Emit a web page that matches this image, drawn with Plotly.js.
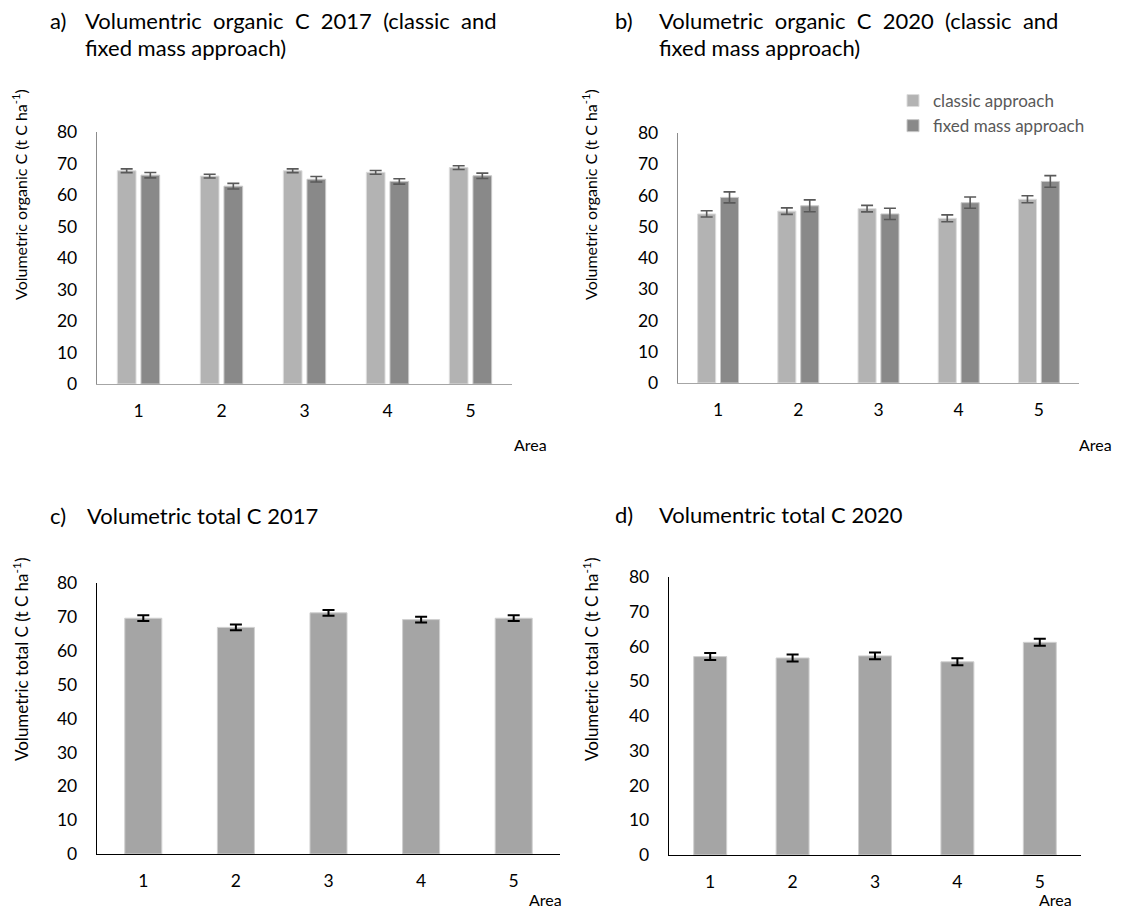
<!DOCTYPE html>
<html><head><meta charset="utf-8">
<script src="https://cdn.plot.ly/plotly-3.0.1.min.js"></script>
<style>html,body{margin:0;padding:0;background:#fff}</style>
</head><body><div id="chart" style="width:1123px;height:913px"></div>
<script>
// ---- data ----
const areas = ['1', '2', '3', '4', '5'];
const orgC2017Classic = [67.7, 66.0, 67.7, 67.2, 68.7];
const orgC2017ClassicErr = [0.6, 0.6, 0.6, 0.6, 0.6];
const orgC2017Fixed = [66.3, 62.8, 65.0, 64.3, 66.1];
const orgC2017FixedErr = [0.85, 0.9, 0.85, 0.85, 0.85];
const orgC2020Classic = [54.1, 55.0, 55.8, 52.7, 58.8];
const orgC2020ClassicErr = [1.0, 1.05, 1.05, 1.1, 1.1];
const orgC2020Fixed = [59.4, 56.7, 54.1, 57.7, 64.5];
const orgC2020FixedErr = [1.75, 1.9, 1.8, 1.8, 1.85];
const totC2017 = [69.6, 66.9, 71.2, 69.2, 69.6];
const totC2017Err = [0.85, 0.85, 0.85, 0.85, 0.85];
const totC2020 = [57.1, 56.7, 57.3, 55.6, 61.2];
const totC2020Err = [1.0, 1.0, 1.0, 1.0, 1.0];
const seriesNames = ['classic approach', 'fixed mass approach'];
const yTicks = [0, 10, 20, 30, 40, 50, 60, 70, 80];

// ---- layout helpers ----
const W = 1123, H = 913;
const px = x => x / W;
const py = y => 1 - y / H;
const FONT = 'Lato, "Open Sans", sans-serif';
const cLight = '#b3b3b3', cDark = '#898989', cTot = '#a5a5a5';
const justify = s => s.split(' ').join('&nbsp; ');

function errs(arr, color, th) {
  return {type: 'data', array: arr, visible: true, color: color, thickness: th, width: 6};
}

const traces = [
  {type: 'bar', x: areas, y: orgC2017Classic, name: seriesNames[0], xaxis: 'x', yaxis: 'y',
   marker: {color: cLight, line: {color: '#dcdcdc', width: 1}}, error_y: errs(orgC2017ClassicErr, '#595959', 1.6), showlegend: false},
  {type: 'bar', x: areas, y: orgC2017Fixed, name: seriesNames[1], xaxis: 'x', yaxis: 'y',
   marker: {color: cDark, line: {color: '#c8c8c8', width: 1}}, error_y: errs(orgC2017FixedErr, '#595959', 1.6), showlegend: false},
  {type: 'bar', x: areas, y: orgC2020Classic, name: seriesNames[0], xaxis: 'x2', yaxis: 'y2',
   marker: {color: cLight, line: {color: '#dcdcdc', width: 1}}, error_y: errs(orgC2020ClassicErr, '#595959', 1.6)},
  {type: 'bar', x: areas, y: orgC2020Fixed, name: seriesNames[1], xaxis: 'x2', yaxis: 'y2',
   marker: {color: cDark, line: {color: '#c8c8c8', width: 1}}, error_y: errs(orgC2020FixedErr, '#595959', 1.6)},
  {type: 'bar', x: areas, y: totC2017, name: 'total C 2017', xaxis: 'x3', yaxis: 'y3', width: 0.4,
   marker: {color: cTot, line: {color: '#d0d0d0', width: 1}}, error_y: errs(totC2017Err, '#000000', 2), showlegend: false},
  {type: 'bar', x: areas, y: totC2020, name: 'total C 2020', xaxis: 'x4', yaxis: 'y4', width: 0.4,
   marker: {color: cTot, line: {color: '#d0d0d0', width: 1}}, error_y: errs(totC2020Err, '#000000', 2), showlegend: false}
];

function xax(d0, d1, anchor, lc) {
  return {domain: [px(d0), px(d1)], anchor: anchor, type: 'category', showline: true, linecolor: lc, linewidth: 1.3,
          ticks: '', showgrid: false, zeroline: false, fixedrange: true, ticklabelstandoff: 11,
          tickfont: {family: FONT, size: 17.5, color: '#000'}};
}
function yax(b, t, anchor, lc) {
  return {domain: [py(b), py(t)], anchor: anchor, range: [0, 80], tickvals: yTicks, showline: true, linecolor: lc, linewidth: 1.3,
          ticks: '', showgrid: false, zeroline: false, fixedrange: true, ticklabelstandoff: 15,
          tickfont: {family: FONT, size: 17.5, color: '#000'}};
}

function ann(text, x, y, opts) {
  return Object.assign({text: text, x: px(x), y: py(y), xref: 'paper', yref: 'paper', showarrow: false,
    xanchor: 'left', yanchor: 'middle', font: {family: FONT, size: 22, color: '#000'}}, opts || {});
}
const small = {family: FONT, size: 16, color: '#000'};
const ytf = sz => ({family: FONT, size: sz, color: '#000'});

const annotations = [
  ann('a)', 48, 20), ann(justify('Volumentric organic C 2017 (classic and'), 83, 20), ann('fixed mass approach)', 83, 47),
  ann('b)', 613, 20), ann(justify('Volumetric organic C 2020 (classic and'), 657, 20), ann('fixed mass approach)', 657, 47),
  ann('c)', 48, 515), ann('Volumetric total C 2017', 85, 515),
  ann('d)', 613, 514), ann('Volumentric total C 2020', 657, 514),
  ann('Volumetric organic C (t C ha<sup>-1</sup>)', 20, 195, {textangle: -90, xanchor: 'center', font: ytf(16)}),
  ann('Volumetric organic C (t C ha<sup>-1</sup>)', 590, 195, {textangle: -90, xanchor: 'center', font: ytf(16)}),
  ann('Volumetric total C (t C ha<sup>-1</sup>)', 20, 660, {textangle: -90, xanchor: 'center', font: ytf(17)}),
  ann('Volumetric total C (t C ha<sup>-1</sup>)', 590, 660, {textangle: -90, xanchor: 'center', font: ytf(17)}),
  ann('Area', 530, 444, {xanchor: 'center', font: small}),
  ann('Area', 1095, 444, {xanchor: 'center', font: small}),
  ann('Area', 545, 899, {xanchor: 'center', font: small}),
  ann('Area', 1055, 899, {xanchor: 'center', font: small})
];

const layout = {
  width: W, height: H, margin: {l: 0, r: 0, t: 0, b: 0},
  paper_bgcolor: '#fff', plot_bgcolor: '#fff',
  barmode: 'group', bargap: 0.43, bargroupgap: 0.21,
  font: {family: FONT, color: '#000'},
  xaxis: xax(97, 512, 'y', '#a6a6a6'),
  yaxis: yax(384, 132, 'x', '#8c8c8c'),
  xaxis2: xax(678, 1079, 'y2', '#a6a6a6'),
  yaxis2: yax(383, 133, 'x2', '#8c8c8c'),
  xaxis3: xax(97, 560, 'y3', '#000'),
  yaxis3: yax(854, 583, 'x3', '#000'),
  xaxis4: xax(669, 1081, 'y4', '#000'),
  yaxis4: yax(855, 577, 'x4', '#000'),
  showlegend: true,
  legend: {x: px(893), y: py(83), xanchor: 'left', yanchor: 'top', bgcolor: 'rgba(0,0,0,0)',
           font: {family: FONT, size: 17, color: '#595959'}, tracegroupgap: 0, itemwidth: 30},
  annotations: annotations
};

Plotly.newPlot('chart', traces, layout, {staticPlot: true, displayModeBar: false});
</script>
</body></html>
